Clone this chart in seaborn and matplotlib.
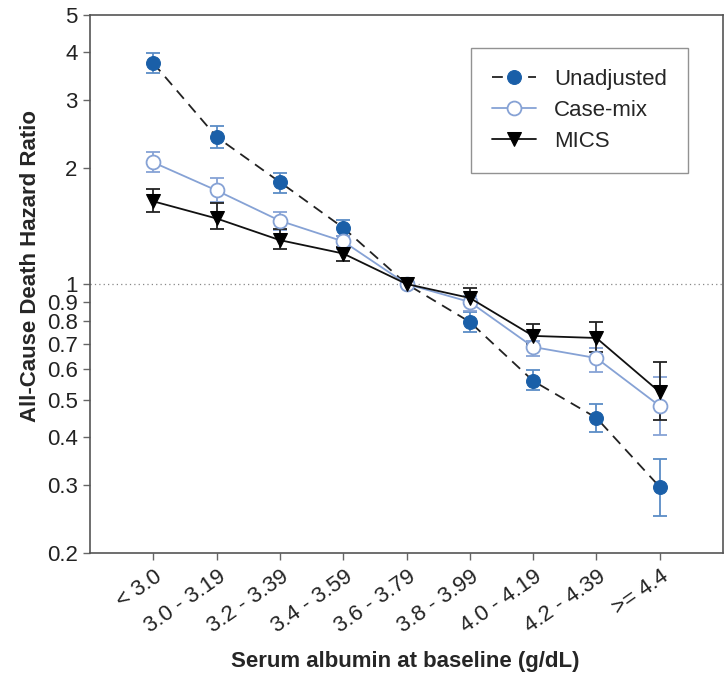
import matplotlib
matplotlib.use("Agg")
import matplotlib.pyplot as plt
from matplotlib.transforms import ScaledTranslation
import seaborn as sns
import numpy as np
import pandas as pd

categories = ["< 3.0", "3.0 - 3.19", "3.2 - 3.39", "3.4 - 3.59", "3.6 - 3.79",
              "3.8 - 3.99", "4.0 - 4.19", "4.2 - 4.39", ">= 4.4"]

unadj = [3.75, 2.41, 1.84, 1.40, 1.00, 0.797, 0.56, 0.449, 0.297]
unadj_lo = [3.53, 2.25, 1.72, 1.33, 1.00, 0.75, 0.53, 0.413, 0.25]
unadj_hi = [3.98, 2.57, 1.94, 1.47, 1.00, 0.846, 0.598, 0.488, 0.351]

casemix = [2.07, 1.75, 1.46, 1.29, 1.00, 0.898, 0.686, 0.642, 0.482]
casemix_lo = [1.95, 1.63, 1.38, 1.23, 1.00, 0.85, 0.65, 0.59, 0.405]
casemix_hi = [2.20, 1.88, 1.54, 1.33, 1.00, 0.93, 0.71, 0.68, 0.573]

mics = [1.64, 1.48, 1.30, 1.20, 1.00, 0.92, 0.733, 0.724, 0.524]
mics_lo = [1.54, 1.39, 1.23, 1.15, 1.00, 0.887, 0.70, 0.666, 0.444]
mics_hi = [1.77, 1.62, 1.39, 1.25, 1.00, 0.976, 0.787, 0.797, 0.627]

ytick_vals = [0.2, 0.3, 0.4, 0.5, 0.6, 0.7, 0.8, 0.9, 1, 2, 3, 4, 5]
ytick_labels = ["0.2", "0.3", "0.4", "0.5", "0.6", "0.7", "0.8", "0.9", "1", "2", "3", "4", "5"]

sns.set_style("white")
plt.rcParams['font.family'] = ['Liberation Sans', 'DejaVu Sans']

fig = plt.figure(figsize=(7.27, 6.75), dpi=100)
ax = fig.add_axes([90/727, 1-553/675, (723-90)/727, (553-15)/675])

pos = np.arange(len(categories))
BLUE = "#1a5fa8"
LBLUE = "#86a2d5"
EBLUE = "#5b8cc6"

series = [
    ("Unadjusted", unadj, unadj_lo, unadj_hi, dict(color="#222222", linestyle=(0, (6, 4)), linewidth=1.3,
                                                marker="o", markersize=10, markerfacecolor=BLUE,
                                                markeredgecolor=BLUE), EBLUE),
    ("Case-mix", casemix, casemix_lo, casemix_hi, dict(color=LBLUE, linestyle="-", linewidth=1.3,
                                                   marker="o", markersize=10, markerfacecolor="white",
                                                   markeredgecolor=LBLUE, markeredgewidth=1.3), LBLUE),
    ("MICS", mics, mics_lo, mics_hi, dict(color="#111111", linestyle="-", linewidth=1.3,
                                         marker="v", markersize=10, markerfacecolor="black",
                                         markeredgecolor="black"), "#222222"),
]

for name, vals, lo, hi, style, ecol in series:
    v = np.array(vals)
    yerr = np.vstack([v - np.array(lo), np.array(hi) - v])
    ax.errorbar(pos, v, yerr=yerr, fmt="none", ecolor=ecol, elinewidth=1.3,
                capsize=5, capthick=1.3, zorder=2)
    df = pd.DataFrame({"x": pos, "y": v})
    sns.lineplot(data=df, x="x", y="y", ax=ax, label=name, zorder=3, **style)

ax.axhline(1.0, color="#888888", linestyle=(0, (1, 2.5)), linewidth=0.9, zorder=1)

ax.set_yscale("log")
ax.set_ylim(0.2, 5)
ax.set_xlim(-1, 9)
ax.set_yticks(ytick_vals)
ax.set_yticklabels(ytick_labels)
ax.yaxis.set_minor_locator(matplotlib.ticker.NullLocator())
ax.set_xticks(pos)
ax.set_xticklabels(categories, rotation=35, ha="right", va="center", rotation_mode="anchor")

ax.tick_params(axis="both", which="major", direction="out", length=5, width=1,
               color="#666666", labelsize=16, labelcolor="#222222", left=True, bottom=True)
ax.tick_params(axis="x", pad=12)
ax.tick_params(axis="y", pad=4)
offset = ScaledTranslation(7 / 100, 2 / 100, fig.dpi_scale_trans)
for lbl in ax.get_xticklabels():
    lbl.set_transform(lbl.get_transform() + offset)
for sp in ax.spines.values():
    sp.set_color("#555555")
    sp.set_linewidth(1.2)

ax.set_xlabel("Serum albumin at baseline (g/dL)", fontsize=16, fontweight="bold")
ax.set_ylabel("All-Cause Death Hazard Ratio", fontsize=16, fontweight="bold")
ax.xaxis.set_label_coords((405 - 90) / 633, -(651 - 553) / 538)
ax.yaxis.set_label_coords(-(90 - 41) / 633, (553 - 266) / 538)

leg = ax.legend(loc="upper right", bbox_to_anchor=((688 - 90) / 633, (553 - 48) / 538), fontsize=16,
                frameon=True, fancybox=False, edgecolor="#777777", handlelength=2.0,
                labelspacing=0.45, borderpad=0.95, handletextpad=0.8, borderaxespad=0)
leg.get_frame().set_linewidth(1.0)

fig.savefig("out.png", dpi=100)
